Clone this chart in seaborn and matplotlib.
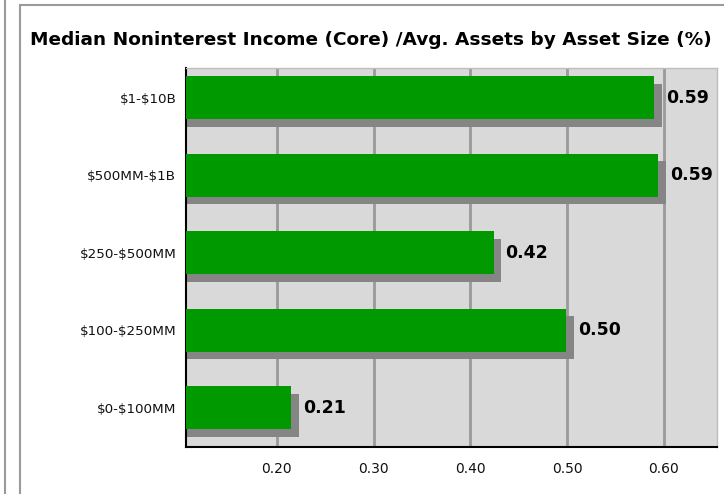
import numpy as np
import pandas as pd
import seaborn as sns
import matplotlib
matplotlib.use('Agg')
from matplotlib import pyplot as plt
from matplotlib import transforms
from matplotlib.lines import Line2D

TITLE = 'Median Noninterest Income (Core) /Avg. Assets by Asset Size (%)'
categories = ['$1-$10B', '$500MM-$1B', '$250-$500MM', '$100-$250MM', '$0-$100MM']
values = [0.590, 0.594, 0.424, 0.499, 0.215]
value_labels = ['0.59', '0.59', '0.42', '0.50', '0.21']
xticks = [0.20, 0.30, 0.40, 0.50, 0.60]

BAR_GREEN = '#009900'
SHADOW = '#858585'
PANEL_BG = '#d9d9d9'

df = pd.DataFrame({'size': categories, 'value': values})

sns.set_style('white')
plt.rcParams['font.family'] = ['DejaVu Sans']
plt.rcParams['text.parse_math'] = False

fig = plt.figure(figsize=(7.24, 4.94), dpi=100)
ax = fig.add_axes([186 / 724, 1 - 447 / 494, (717 - 186) / 724, (447 - 68) / 494])
ax.set_facecolor(PANEL_BG)

# shadow bars first, shifted right/down by a few pixels
sns.barplot(data=df, x='value', y='size', orient='h', color=SHADOW, width=0.556,
            saturation=1, ax=ax, zorder=2)
n_shadow = len(ax.patches)
shift = transforms.ScaledTranslation(7.5 / 100, -7.5 / 100, fig.dpi_scale_trans)
for p in ax.patches[:n_shadow]:
    p.set_transform(ax.transData + shift)
    p.set_edgecolor('none')

sns.barplot(data=df, x='value', y='size', orient='h', color=BAR_GREEN, width=0.556,
            saturation=1, ax=ax, zorder=3)
for p in ax.patches[n_shadow:]:
    p.set_edgecolor('none')

for i, (v, lab) in enumerate(zip(values, value_labels)):
    ax.annotate(lab, xy=(v, i), xytext=(8.5, 0), textcoords='offset points',
                va='center', ha='left', fontsize=12.5, fontweight='bold', color='black', zorder=4)

ax.set_xlim(0.106, 0.655)
ax.set_ylim(4.507, -0.383)
ax.set_xticks(xticks)
ax.set_xticklabels(['%.2f' % t for t in xticks], fontsize=10)
ax.tick_params(axis='y', labelsize=9.7, length=3.5, color='#999999', width=1, labelcolor='#111111')
ax.tick_params(axis='x', length=5, color='#999999', width=2, pad=6, labelcolor='#111111')
ax.xaxis.grid(True, color='#9a9a9a', linewidth=2, zorder=1)
ax.set_axisbelow(True)
ax.set_xlabel('')
ax.set_ylabel('')
for side in ['left', 'bottom']:
    ax.spines[side].set_color('black')
    ax.spines[side].set_linewidth(1.5)
for side in ['top', 'right']:
    ax.spines[side].set_color('#bdbdbd')
    ax.spines[side].set_linewidth(1)

fig.text(30 / 724, 1 - 40 / 494, TITLE, fontsize=13.3, fontweight='bold',
         ha='left', va='center', color='black')

# surrounding panel frames
fig.add_artist(Line2D([5 / 724, 5 / 724], [0, 1], color='#9a9a9a', linewidth=1.5))
fig.add_artist(Line2D([20 / 724, 20 / 724], [0, 1 - 5 / 494], color='#9a9a9a', linewidth=1.5))
fig.add_artist(Line2D([20 / 724, 1], [1 - 5 / 494, 1 - 5 / 494], color='#9a9a9a', linewidth=1.5))

fig.savefig('out.png', dpi=100)
